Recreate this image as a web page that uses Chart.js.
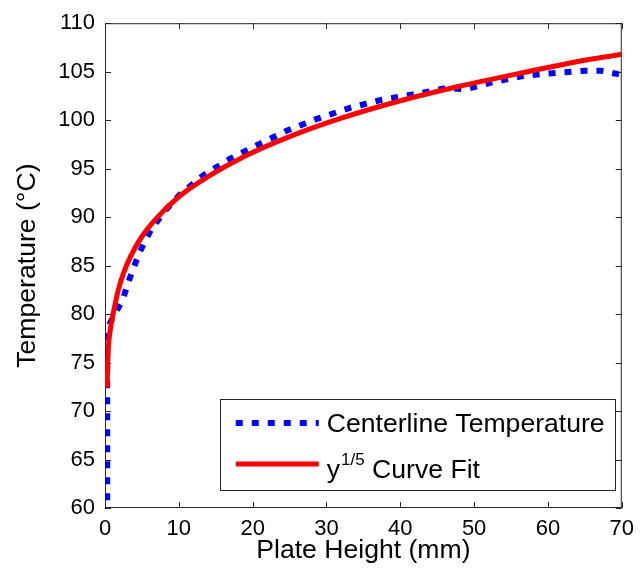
<!DOCTYPE html>
<html>
<head>
<meta charset="utf-8">
<script src="https://cdn.jsdelivr.net/npm/chart.js@4/dist/chart.umd.min.js"></script>
<style>
  html, body { margin: 0; padding: 0; background: #fff; }
  #wrap { width: 642px; height: 582px; }
</style>
</head>
<body>
<div id="wrap"><canvas id="chart" width="642" height="582"></canvas></div>
<script>
// centerline temperature (blue dotted)
const centerX = [0.3, 0.3, 0.3, 0.5, 0.9, 1.35, 2.4, 3.4, 4.7, 6.3, 8.3, 10.1, 13.3, 16.9, 20, 24.6, 28.6, 33.3, 37.5, 42.1, 46.2, 48.9, 52.4, 56.9, 61.4, 65.0, 67.2, 69.8, 70];
const centerT = [60.8, 70, 78.0, 78.8, 79.4, 80.0, 81.5, 83.8, 86.4, 88.8, 90.8, 92.3, 94.3, 96.0, 97.2, 98.9, 100.1, 101.3, 102.1, 102.7, 103.3, 103.2, 103.9, 104.6, 104.9, 105.1, 105.1, 104.7, 104.5];

// y^(1/5) curve fit (red solid)
const fitX = [0.3, 0.35, 0.45, 0.7, 1.1, 1.8, 2.5, 3.5, 5, 7, 10, 14, 19, 25, 32, 40, 48, 56, 63, 70];
const fitT = [72.4, 74.5, 76.5, 78.3, 80.0, 82.5, 84.2, 86.0, 88.0, 89.9, 92.1, 94.2, 96.3, 98.3, 100.2, 102.0, 103.5, 104.8, 105.9, 106.8];

const xTicks = [0, 10, 20, 30, 40, 50, 60, 70];
const yTicks = [60, 65, 70, 75, 80, 85, 90, 95, 100, 105, 110];

const FONT = "'Liberation Sans', Arial, Helvetica, sans-serif";
const AXIS = "#262626";

function pts(xs, ys) {
  return xs.map((x, i) => ({ x: x, y: ys[i] }));
}

// рамка вокруг графика и засечки внутрь
const framePlugin = {
  id: "frame",
  beforeDatasetsDraw(chart) {
    const { ctx, chartArea: a, scales } = chart;
    const tl = 6;
    ctx.save();
    ctx.strokeStyle = AXIS;
    ctx.lineWidth = 1;
    ctx.strokeRect(a.left + 0.5, a.top + 0.5, a.right - a.left - 1, a.bottom - a.top - 1);
    ctx.beginPath();
    xTicks.forEach((v) => {
      const px = Math.round(scales.x.getPixelForValue(v)) + 0.5;
      ctx.moveTo(px, a.bottom);
      ctx.lineTo(px, a.bottom - tl);
      ctx.moveTo(px, a.top);
      ctx.lineTo(px, a.top + tl);
    });
    yTicks.forEach((v) => {
      const py = Math.round(scales.y.getPixelForValue(v)) + 0.5;
      ctx.moveTo(a.left, py);
      ctx.lineTo(a.left + tl, py);
      ctx.moveTo(a.right, py);
      ctx.lineTo(a.right - tl, py);
    });
    ctx.stroke();
    ctx.restore();
  },
};

// легенда в правом нижнем углу
const legendPlugin = {
  id: "boxLegend",
  afterDraw(chart) {
    const { ctx, chartArea: a } = chart;
    const ds = chart.data.datasets;
    const w = 395, h = 91;
    const right = a.right - 7;
    const bottom = a.bottom - 18;
    const left = right - w;
    const top = bottom - h;
    ctx.save();
    ctx.fillStyle = "#fff";
    ctx.fillRect(left, top, w, h);
    ctx.strokeStyle = AXIS;
    ctx.lineWidth = 1;
    ctx.strokeRect(Math.round(left) + 0.5, Math.round(top) + 0.5, w, h);

    const lx0 = left + 16, lx1 = left + 99;
    const rows = [top + 24, top + 65];
    ds.forEach((d, i) => {
      const y = rows[i];
      ctx.beginPath();
      ctx.strokeStyle = d.borderColor;
      ctx.lineWidth = d.borderWidth;
      ctx.setLineDash(d.borderDash || []);
      ctx.moveTo(lx0, y);
      ctx.lineTo(lx1, y);
      ctx.stroke();
      ctx.setLineDash([]);
    });

    ctx.fillStyle = "#000";
    ctx.textBaseline = "alphabetic";
    ctx.textAlign = "left";
    const tx = left + 107;
    ctx.font = "26.6px " + FONT;
    ctx.fillText(ds[0].label, tx, rows[0] + 9);
    // y^{1/5} Curve Fit
    const base = rows[1] + 14;
    ctx.fillText("y", tx, base);
    let x = tx + ctx.measureText("y").width + 1;
    ctx.font = "17px " + FONT;
    ctx.fillText("1/5", x, base - 13);
    x += ctx.measureText("1/5").width;
    ctx.font = "26.6px " + FONT;
    ctx.fillText(" Curve Fit", x, base);
    ctx.restore();
  },
};

const chart = new Chart(document.getElementById("chart"), {
  type: "scatter",
  data: {
    datasets: [
      {
        label: "Centerline Temperature",
        data: pts(centerX, centerT),
        showLine: true,
        borderColor: "#0000ff",
        borderWidth: 6,
        borderDash: [7, 9],
        pointRadius: 0,
        tension: 0,
        order: 1,
      },
      {
        label: "y1/5 Curve Fit",
        data: pts(fitX, fitT),
        showLine: true,
        borderColor: "#ff0000",
        borderWidth: 5,
        pointRadius: 0,
        cubicInterpolationMode: "monotone",
        order: 0,
      },
    ],
  },
  options: {
    responsive: false,
    animation: false,
    layout: { padding: { top: 20, right: 18, left: 0, bottom: 0 } },
    plugins: {
      legend: { display: false },
      tooltip: { enabled: false },
    },
    scales: {
      x: {
        type: "linear",
        min: 0,
        max: 70,
        afterFit: (s) => { s.height = 74; },
        afterBuildTicks: (s) => { s.ticks = xTicks.map((v) => ({ value: v })); },
        grid: { display: false, drawTicks: false },
        border: { display: false },
        ticks: { color: "#000", padding: 8, font: { family: FONT, size: 22 } },
        title: {
          display: true,
          text: "Plate Height (mm)",
          color: "#000",
          font: { family: FONT, size: 26.6 },
          padding: { top: 0, bottom: 15 },
        },
      },
      y: {
        type: "linear",
        min: 60,
        max: 110,
        afterFit: (s) => { s.width = 105; },
        afterBuildTicks: (s) => { s.ticks = yTicks.map((v) => ({ value: v })); },
        grid: { display: false, drawTicks: false },
        border: { display: false },
        ticks: { color: "#000", padding: 10, font: { family: FONT, size: 22 } },
        title: {
          display: true,
          text: "Temperature (°C)",
          color: "#000",
          font: { family: FONT, size: 26.6 },
          padding: { top: 12, bottom: 0 },
        },
      },
    },
  },
  plugins: [framePlugin, legendPlugin],
});
</script>
</body>
</html>
